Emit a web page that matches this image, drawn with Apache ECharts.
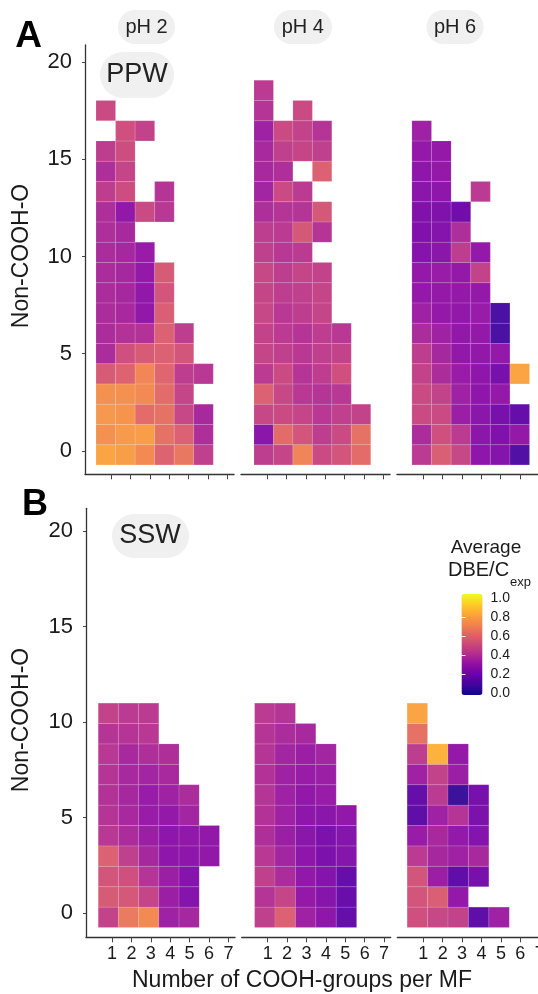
<!DOCTYPE html>
<html><head><meta charset="utf-8">
<script src="https://cdn.jsdelivr.net/npm/echarts@6/dist/echarts.min.js"></script>
<style>html,body{margin:0;padding:0;background:#fff}#c{width:538px;height:994px}</style>
</head><body><div id="c"></div>
<script>
// ---------------- DATA ----------------
const xTicks = [1, 2, 3, 4, 5, 6, 7];
const yTicks = [0, 5, 10, 15, 20];
const legendTicks = [0, 0.2, 0.4, 0.6, 0.8, 1.0];
const phLabels = ['pH 2', 'pH 4', 'pH 6'];
const waterLabels = ['PPW', 'SSW'];
const panelLetters = ['A', 'B'];
const xTitle = 'Number of COOH-groups per MF';
const yTitle = 'Non-COOH-O';
const legendTitle1 = 'Average';
const legendTitle2 = 'DBE/C';
const legendTitleSub = 'exp';

// rows indexed by Non-COOH-O (0 upward); entries = COOH groups 1..n (null = no formula)
const ppw_pH2 = [
  [0.78, 0.76, 0.70, 0.57, 0.64, 0.44],
  [0.72, 0.75, 0.76, 0.62, 0.56, 0.38],
  [0.74, 0.73, 0.60, 0.62, 0.47, 0.36],
  [0.72, 0.72, 0.70, 0.60, 0.46],
  [0.54, 0.57, 0.69, 0.58, 0.43, 0.41],
  [0.37, 0.50, 0.54, 0.56, 0.52],
  [0.37, 0.39, 0.39, 0.56, 0.43],
  [0.37, 0.36, 0.29, 0.55],
  [0.37, 0.35, 0.29, 0.52],
  [0.37, 0.35, 0.30, 0.54],
  [0.37, 0.35, 0.31],
  [0.38, 0.36],
  [0.38, 0.29, 0.48, 0.41],
  [0.43, 0.49, null, 0.40],
  [0.38, 0.46],
  [0.43, 0.49],
  [null, 0.50, 0.45],
  [0.48]
];
const ppw_pH4 = [
  [0.43, 0.46, 0.68, 0.48, 0.52, 0.60],
  [0.27, 0.60, 0.52, 0.43, 0.48, 0.62],
  [0.47, 0.48, 0.46, 0.41, 0.44, 0.45],
  [0.56, 0.47, 0.41, 0.40, 0.41],
  [0.42, 0.48, 0.40, 0.43, 0.50],
  [0.46, 0.44, 0.41, 0.44, 0.45],
  [0.45, 0.42, 0.40, 0.43, 0.41],
  [0.47, 0.41, 0.43, 0.46],
  [0.46, 0.43, 0.44, 0.46],
  [0.47, 0.43, 0.46, 0.45],
  [0.44, 0.41, 0.42],
  [0.43, 0.42, 0.53, 0.40],
  [0.38, 0.40, 0.40, 0.53],
  [0.34, 0.48, 0.42],
  [0.36, 0.38, null, 0.56],
  [0.36, 0.44, 0.46, 0.44],
  [0.33, 0.48, 0.45, 0.40],
  [0.40, null, 0.48],
  [0.42]
];
const ppw_pH6 = [
  [0.42, 0.55, 0.47, 0.28, 0.25, 0.12],
  [0.37, 0.50, 0.42, 0.27, 0.24, 0.30],
  [0.48, 0.48, 0.32, 0.27, 0.22, 0.17],
  [0.48, 0.45, 0.33, 0.28, 0.30],
  [0.45, 0.37, 0.31, 0.28, 0.22, 0.78],
  [0.43, 0.35, 0.29, 0.29, 0.30],
  [0.37, 0.33, 0.29, 0.30, 0.10],
  [0.33, 0.30, 0.29, 0.31, 0.10],
  [0.30, 0.30, 0.30, 0.30],
  [0.30, 0.31, 0.30, 0.45],
  [0.25, 0.27, 0.43, 0.30],
  [0.24, 0.25, 0.38],
  [0.24, 0.24, 0.20],
  [0.27, 0.28, null, 0.42],
  [0.28, 0.30],
  [0.30, 0.30],
  [0.33]
];
const ssw_pH2 = [
  [0.45, 0.65, 0.70, 0.33, 0.35],
  [0.54, 0.53, 0.46, 0.32, 0.25],
  [0.52, 0.50, 0.40, 0.32, 0.25],
  [0.56, 0.44, 0.35, 0.28, 0.28, 0.29],
  [0.41, 0.37, 0.32, 0.28, 0.29, 0.29],
  [0.40, 0.36, 0.31, 0.30, 0.34],
  [0.39, 0.35, 0.31, 0.33, 0.37],
  [0.40, 0.36, 0.34, 0.36],
  [0.41, 0.36, 0.38, 0.38],
  [0.40, 0.40, 0.41],
  [0.45, 0.42, 0.42]
];
const ssw_pH4 = [
  [0.44, 0.56, 0.33, 0.28, 0.17],
  [0.40, 0.46, 0.30, 0.26, 0.18],
  [0.44, 0.37, 0.29, 0.25, 0.17],
  [0.41, 0.34, 0.28, 0.23, 0.26],
  [0.38, 0.32, 0.27, 0.23, 0.26],
  [0.39, 0.33, 0.28, 0.27, 0.29],
  [0.40, 0.33, 0.29, 0.31],
  [0.39, 0.33, 0.31, 0.32],
  [0.40, 0.34, 0.32, 0.34],
  [0.40, 0.37, 0.36],
  [0.42, 0.40]
];
const ssw_pH6 = [
  [0.50, 0.47, 0.45, 0.15, 0.33],
  [0.52, 0.55, 0.30],
  [0.52, 0.32, 0.15, 0.22],
  [0.42, 0.35, 0.33, 0.36],
  [0.31, 0.36, 0.30, 0.25],
  [0.15, 0.33, 0.40, 0.23],
  [0.17, 0.42, 0.07, 0.22],
  [0.33, 0.45, 0.32],
  [0.43, 0.82, 0.30],
  [0.62],
  [0.78]
];

// ---------------- STYLE / LAYOUT ----------------
const FONT = '"Liberation Sans", Arial, Helvetica, sans-serif';
const TXT = '#1a1a1a';
const AXIS = '#333333';
const plasma = ['#0d0887','#41049d','#6a00a8','#8f0da4','#b12a90','#cc4778','#e16462','#f2844b','#fca636','#fcce25','#f0f921'];
const FACET_W = 149;
const panels = [
  { top: 45, height: 429.3, yDisp: [-1.198, 20.87], yTile: [-0.963, 20.24], showXLabels: false },
  { top: 508.3, height: 429, yDisp: [-1.27, 21.19], yTile: [-0.98, 20.05], showXLabels: true }
];
const facetLayouts = [
  [{ left: 85, tile: [-0.064, 7.56] }, { left: 241, tile: [-0.167, 7.49] }, { left: 397, tile: [-0.26, 7.34] }],
  [{ left: 86, tile: [-0.104, 7.27] }, { left: 241.7, tile: [-0.133, 7.17] }, { left: 397.3, tile: [0.02, 7.31] }]
];
const facetData = [[ppw_pH2, ppw_pH4, ppw_pH6], [ssw_pH2, ssw_pH4, ssw_pH6]];

function toCells(rows) {
  const out = [];
  rows.forEach((row, y) => row.forEach((v, i) => { if (v != null) out.push([i + 1, y, v]); }));
  return out;
}
function renderTile(params, api) {
  const x = api.value(0), y = api.value(1);
  const p0 = api.coord([x - 0.5, y + 0.5]);
  const p1 = api.coord([x + 0.5, y - 0.5]);
  return {
    type: 'rect',
    shape: { x: p0[0], y: p0[1], width: p1[0] - p0[0], height: p1[1] - p0[1] },
    style: { fill: api.visual('color'), stroke: 'rgba(255,255,255,0.22)', lineWidth: 0.6, opacity: 0.95 }
  };
}

const grids = [], xAxes = [], yAxes = [], series = [];
panels.forEach((P, pi) => {
  facetLayouts[pi].forEach((F, fi) => {
    const g = grids.length;
    grids.push({ left: F.left, top: P.top, width: FACET_W, height: P.height, containLabel: false, outerBoundsMode: 'none', show: false });
    xAxes.push({
      type: 'value', gridIndex: g, min: -0.34, max: 7.34, position: 'bottom',
      axisLine: { show: true, onZero: false, lineStyle: { color: AXIS, width: 1.3 } },
      axisTick: { show: true, customValues: xTicks, length: 5, lineStyle: { color: '#444', width: 1 } },
      axisLabel: { show: P.showXLabels, customValues: xTicks, margin: 8, fontSize: 18, color: TXT, fontFamily: FONT },
      splitLine: { show: false }
    });
    xAxes.push({ type: 'value', gridIndex: g, min: F.tile[0], max: F.tile[1], show: false, splitLine: { show: false } });
    const isLeft = fi === 0;
    yAxes.push({
      type: 'value', gridIndex: g, min: P.yDisp[0], max: P.yDisp[1], position: 'left',
      axisLine: { show: isLeft, onZero: false, lineStyle: { color: AXIS, width: 1.3 } },
      axisTick: { show: isLeft, customValues: yTicks, length: 3, lineStyle: { color: '#444', width: 1 } },
      axisLabel: { show: isLeft, customValues: yTicks, margin: 13, fontSize: 22, color: TXT, fontFamily: FONT },
      splitLine: { show: false }
    });
    yAxes.push({ type: 'value', gridIndex: g, min: P.yTile[0], max: P.yTile[1], show: false, splitLine: { show: false } });
    series.push({
      type: 'custom', xAxisIndex: xAxes.length - 1, yAxisIndex: yAxes.length - 1,
      data: toCells(facetData[pi][fi]), renderItem: renderTile, encode: { x: 0, y: 1 }
    });
  });
});

// colour bar axis grid
const cbGrid = grids.length;
grids.push({ left: 461.5, top: 598, width: 21, height: 94.7, containLabel: false, outerBoundsMode: 'none', show: false });
xAxes.push({ type: 'value', gridIndex: cbGrid, min: 0, max: 1, show: false });
yAxes.push({
  type: 'value', gridIndex: cbGrid, min: 0, max: 1, position: 'right', z: 10,
  axisLine: { show: false },
  axisTick: { show: true, inside: true, customValues: [0.2, 0.4, 0.6, 0.8], length: 4, lineStyle: { color: '#ffffff', width: 1 } },
  axisLabel: { show: true, customValues: legendTicks, margin: 8, fontSize: 14, color: TXT, fontFamily: FONT, formatter: v => v.toFixed(1) },
  splitLine: { show: false }
});
yAxes.push({
  type: 'value', gridIndex: cbGrid, min: 0, max: 1, position: 'left', z: 10,
  axisLine: { show: false },
  axisTick: { show: true, inside: true, customValues: [0.2, 0.4, 0.6, 0.8], length: 4, lineStyle: { color: '#ffffff', width: 1 } },
  axisLabel: { show: false },
  splitLine: { show: false }
});

// ---------------- GRAPHICS (labels) ----------------
const graphics = [];
function pill(x, y, w, h, text, cx, cy, fs) {
  graphics.push({ type: 'rect', shape: { x: x, y: y, width: w, height: h, r: h / 2 }, style: { fill: '#f0f0f0' }, z: 5 });
  graphics.push({ type: 'text', x: cx, y: cy, z: 6, style: { text: text, fontSize: fs, fontFamily: FONT, fill: '#222', align: 'center', verticalAlign: 'middle' } });
}
pill(118, 10, 57, 34, phLabels[0], 146.6, 27, 20);
pill(274, 10, 58, 34, phLabels[1], 302.8, 27, 20);
pill(426.5, 10, 57, 34, phLabels[2], 455, 27, 20);
pill(100, 52, 74, 46, waterLabels[0], 137, 75, 27);
pill(112, 514, 77, 44, waterLabels[1], 150, 536, 27);

graphics.push({ type: 'text', x: 28.5, y: 37, style: { text: panelLetters[0], fontSize: 37, fontWeight: 'bold', fontFamily: FONT, fill: '#000', align: 'center', verticalAlign: 'middle' } });
graphics.push({ type: 'text', x: 35, y: 505, style: { text: panelLetters[1], fontSize: 36, fontWeight: 'bold', fontFamily: FONT, fill: '#000', align: 'center', verticalAlign: 'middle' } });

graphics.push({ type: 'text', x: 302, y: 981, style: { text: xTitle, fontSize: 23, fontFamily: FONT, fill: TXT, align: 'center', verticalAlign: 'middle' } });
graphics.push({ type: 'text', x: 22, y: 256, rotation: Math.PI / 2, style: { text: yTitle, fontSize: 23, fontFamily: FONT, fill: TXT, align: 'center', verticalAlign: 'middle' } });
graphics.push({ type: 'text', x: 22, y: 720, rotation: Math.PI / 2, style: { text: yTitle, fontSize: 23, fontFamily: FONT, fill: TXT, align: 'center', verticalAlign: 'middle' } });

graphics.push({ type: 'text', x: 486, y: 548, style: { text: legendTitle1, fontSize: 19, fontFamily: FONT, fill: TXT, align: 'center', verticalAlign: 'middle' } });
graphics.push({ type: 'text', x: 448, y: 570, style: { text: legendTitle2, fontSize: 20, fontFamily: FONT, fill: TXT, align: 'left', verticalAlign: 'middle' } });
graphics.push({ type: 'text', x: 510, y: 582, style: { text: legendTitleSub, fontSize: 13, fontFamily: FONT, fill: TXT, align: 'left', verticalAlign: 'middle' } });

const chart = echarts.init(document.getElementById('c'), null, { renderer: 'canvas' });
chart.setOption({
  animation: false,
  backgroundColor: '#ffffff',
  textStyle: { fontFamily: FONT },
  grid: grids,
  xAxis: xAxes,
  yAxis: yAxes,
  visualMap: {
    type: 'continuous', min: 0, max: 1, dimension: 2, seriesIndex: [0, 1, 2, 3, 4, 5],
    inRange: { color: plasma }, calculable: false, show: true, hoverLink: false,
    left: 461.5, top: 594, itemWidth: 21, itemHeight: 101, padding: 0, orient: 'vertical', z: 4
  },
  graphic: graphics,
  series: series
});
</script></body></html>
